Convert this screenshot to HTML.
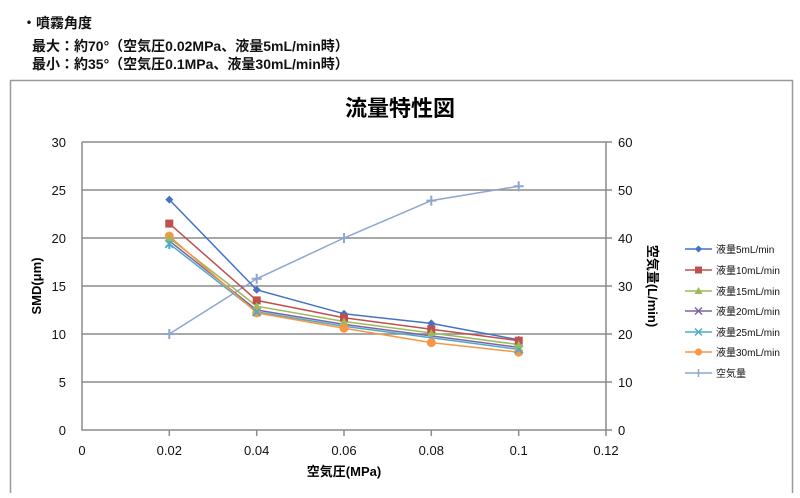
<!DOCTYPE html>
<html><head><meta charset="utf-8"><style>
body{margin:0;background:#fff;width:800px;height:493px;overflow:hidden}
svg text{font-family:"Liberation Sans","Noto Sans CJK JP",sans-serif}
</style></head><body>
<svg width="800" height="493" xmlns="http://www.w3.org/2000/svg">
<g font-size="14" font-weight="bold" fill="#111">
<text x="22" y="28">・噴霧角度</text>
<text x="32" y="51">最大：約70°（空気圧0.02MPa、液量5mL/min時）</text>
<text x="32" y="69">最小：約35°（空気圧0.1MPa、液量30mL/min時）</text>
</g>
<path d="M10.5 493V80.5H792.5V493" fill="none" stroke="#999" stroke-width="1.5"/>
<text x="400" y="116" font-size="22" font-weight="bold" text-anchor="middle">流量特性図</text>
<g stroke="#8c8c8c" stroke-width="1.5" fill="none">
<path d="M82 142H606M82 190H606M82 238H606M82 286H606M82 334H606M82 382H606"/>
<path d="M82 142V430H606V142"/>
<path d="M606 142h6M606 190h6M606 238h6M606 286h6M606 334h6M606 382h6M606 430h6"/>
<path d="M169.3 430v6M256.7 430v6M344 430v6M431.3 430v6M518.7 430v6M606 430v6"/>
</g>
<g font-size="13" fill="#111" text-anchor="end">
<text x="66" y="147">30</text><text x="66" y="195">25</text><text x="66" y="243">20</text><text x="66" y="291">15</text><text x="66" y="339">10</text><text x="66" y="387">5</text><text x="66" y="435">0</text>
</g>
<g font-size="13" fill="#111">
<text x="618" y="147">60</text><text x="618" y="195">50</text><text x="618" y="243">40</text><text x="618" y="291">30</text><text x="618" y="339">20</text><text x="618" y="387">10</text><text x="618" y="435">0</text>
</g>
<g font-size="13" fill="#111" text-anchor="middle">
<text x="82" y="455">0</text><text x="169.3" y="455">0.02</text><text x="256.7" y="455">0.04</text><text x="344" y="455">0.06</text><text x="431.3" y="455">0.08</text><text x="518.7" y="455">0.1</text><text x="606" y="455">0.12</text>
</g>
<text x="344" y="476" font-size="13" font-weight="bold" text-anchor="middle">空気圧(MPa)</text>
<text transform="translate(41 286) rotate(-90)" font-size="13" font-weight="bold" text-anchor="middle">SMD(μm)</text>
<text transform="translate(648 286) rotate(90)" font-size="13" font-weight="bold" text-anchor="middle">空気量(L/min)</text>
<g fill="none" stroke-width="1.5">
<polyline stroke="#8ea5cf" points="169.3,334 256.7,278.8 344,238 431.3,200.6 518.7,186.2"/>
<polyline stroke="#4472c4" points="169.3,199.6 256.7,289.8 344,313.8 431.3,323.4 518.7,339.8"/>
<polyline stroke="#c0504d" points="169.3,223.6 256.7,300.4 344,317.7 431.3,329.2 518.7,340.7"/>
<polyline stroke="#9bbb59" points="169.3,238 256.7,306.2 344,321.5 431.3,333 518.7,344.6"/>
<polyline stroke="#8064a2" points="169.3,240.9 256.7,310 344,324.4 431.3,335.9 518.7,347.4"/>
<polyline stroke="#4bacc6" points="169.3,243.8 256.7,311.9 344,326.3 431.3,337.8 518.7,349.4"/>
<polyline stroke="#f79646" points="169.3,236.1 256.7,312.9 344,328.2 431.3,342.6 518.7,352.2"/>
</g>
<g fill="#4472c4">
<path d="M169.3 195.6l4 4-4 4-4-4z"/><path d="M256.7 285.8l4 4-4 4-4-4z"/><path d="M344 309.8l4 4-4 4-4-4z"/><path d="M431.3 319.4l4 4-4 4-4-4z"/><path d="M518.7 335.8l4 4-4 4-4-4z"/>
</g>
<g fill="#c0504d">
<rect x="165.3" y="219.6" width="8" height="8"/><rect x="252.7" y="296.4" width="8" height="8"/><rect x="340" y="313.7" width="8" height="8"/><rect x="427.3" y="325.2" width="8" height="8"/><rect x="514.7" y="336.7" width="8" height="8"/>
</g>
<g fill="#f79646">
<circle cx="169.3" cy="236.1" r="4.5"/><circle cx="256.7" cy="312.9" r="4.5"/><circle cx="344" cy="328.2" r="4.5"/><circle cx="431.3" cy="342.6" r="4.5"/><circle cx="518.7" cy="352.2" r="4.5"/>
</g>
<g stroke="#4bacc6" stroke-width="2">
<path d="M165.3 239.8l8 8M173.3 239.8l-8 8M169.3 239v10"/><path d="M252.7 307.9l8 8M260.7 307.9l-8 8"/><path d="M514.7 345.4l8 8M522.7 345.4l-8 8"/>
</g>
<g stroke="#8ea5cf" stroke-width="2">
<path d="M164.3 334h10M169.3 329v10M251.7 278.8h10M256.7 273.8v10M339 238h10M344 233v10M426.3 200.6h10M431.3 195.6v10M513.7 186.2h10M518.7 181.2v10"/>
</g>
<g font-size="10" fill="#111">
<g stroke-width="1.5">
<line x1="685" y1="249" x2="712" y2="249" stroke="#4472c4"/><path d="M698.5 245.5l3.5 3.5-3.5 3.5-3.5-3.5z" fill="#4472c4"/>
<line x1="685" y1="270" x2="712" y2="270" stroke="#c0504d"/><rect x="695" y="266.5" width="7" height="7" fill="#c0504d"/>
<line x1="685" y1="291" x2="712" y2="291" stroke="#9bbb59"/><path d="M698.5 287l4 7h-8z" fill="#9bbb59"/>
<line x1="685" y1="311" x2="712" y2="311" stroke="#8064a2"/><path d="M695 307.5l7 7M702 307.5l-7 7" stroke="#8064a2"/>
<line x1="685" y1="332" x2="712" y2="332" stroke="#4bacc6"/><path d="M695 328.5l7 7M702 328.5l-7 7" stroke="#4bacc6"/>
<line x1="685" y1="352" x2="712" y2="352" stroke="#f79646"/><circle cx="698.5" cy="352" r="3.5" fill="#f79646"/>
<line x1="685" y1="373" x2="712" y2="373" stroke="#8ea5cf"/><path d="M698.5 369v8" stroke="#8ea5cf"/>
</g>
<text x="716" y="253">液量5mL/min</text>
<text x="716" y="274">液量10mL/min</text>
<text x="716" y="295">液量15mL/min</text>
<text x="716" y="315">液量20mL/min</text>
<text x="716" y="336">液量25mL/min</text>
<text x="716" y="356">液量30mL/min</text>
<text x="716" y="377">空気量</text>
</g>
<path d="M169.3 234l4 7h-8z" fill="#9bbb59"/><path d="M256.7 302l4 7h-8z" fill="#9bbb59"/><path d="M344 317.5l4 7h-8z" fill="#9bbb59"/><path d="M431.3 329l4 7h-8z" fill="#9bbb59"/><path d="M518.7 340.6l4 7h-8z" fill="#9bbb59"/>
</svg>
</body></html>
